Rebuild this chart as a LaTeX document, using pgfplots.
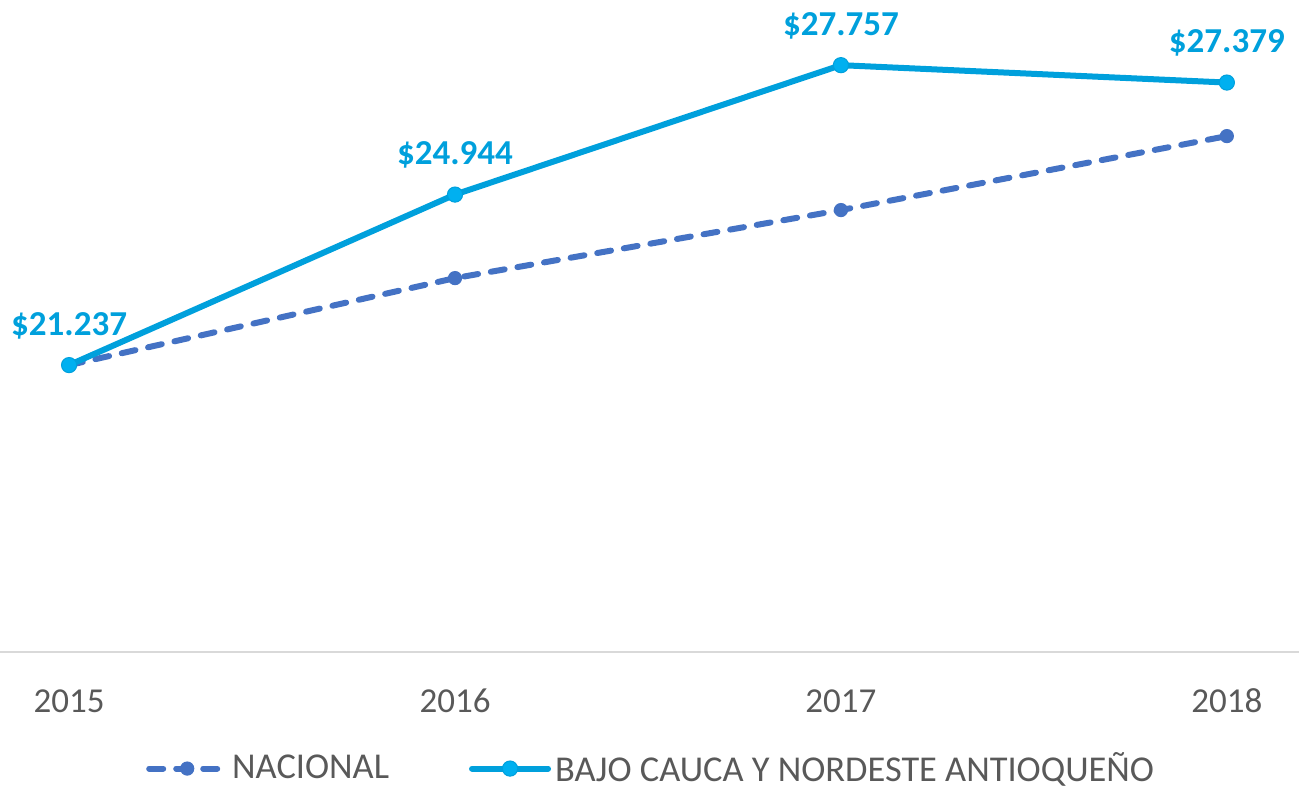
\documentclass[border=0pt]{standalone}
\usepackage{pgfplots}
\pgfplotsset{compat=1.18}
\usepackage{fontspec}
\setmainfont{Carlito}
\definecolor{cyanline}{RGB}{0,160,220}
\definecolor{cyanmark}{RGB}{0,176,240}
\definecolor{nacblue}{RGB}{68,114,196}
\definecolor{txtgray}{RGB}{89,89,89}
\definecolor{axgray}{RGB}{217,217,217}
\begin{document}
\begin{tikzpicture}
\useasboundingbox (0,0) rectangle (649.5pt,395.5pt);
\begin{axis}[
  at={(0pt,69.5pt)}, anchor=south west,
  scale only axis, width=649.5pt, height=322pt,
  xmin=-0.179, xmax=3.187, ymin=15000, ymax=29000,
  axis x line=bottom, axis y line=none,
  axis line style={-, draw=axgray, line width=1pt},
  xtick={0,1,2,3}, xticklabels={2015,2016,2017,2018},
  major tick length=0pt,
  xticklabel style={anchor=base, yshift=-30.5pt, font=\fontsize{17.5}{21}\selectfont, text=txtgray},
  clip=false,
  legend style={at={(0.502,-0.181)}, anchor=center, draw=none, fill=none, legend columns=2,
    font=\fontsize{18.2}{22}\selectfont, text=txtgray, inner ysep=0pt,
    nodes={inner ysep=1pt},
    /tikz/every even column/.append style={column sep=38pt}},
  legend cell align=left,
  legend image code/.code={\draw[mark repeat=2,mark phase=2,#1] plot coordinates {(0pt,0pt) (19pt,0pt) (38pt,0pt)};},
]
\addplot[nacblue, line width=3pt, dash pattern=on 7pt off 6.5pt, line cap=round,
  mark=*, mark size=3.3pt, mark options={solid, line width=0.5pt, fill=nacblue, draw=nacblue}]
  coordinates {(0,21237) (1,23128) (2,24607) (3,26215)};
\addlegendentry{NACIONAL}
\addplot[cyanline, line width=3pt, line cap=round,
  mark=*, mark size=3.8pt, mark options={line width=0.5pt, fill=cyanmark, draw=cyanline},
  point meta=explicit symbolic, nodes near coords,
  every node near coord/.append style={anchor=base, yshift=15pt, font=\bfseries\fontsize{17.5}{21}\selectfont, text=cyanline}]
  coordinates {(0,21237)[\$21.237] (1,24944)[\$24.944] (2,27757)[\$27.757] (3,27379)[\$27.379]};
\addlegendentry{BAJO CAUCA Y NORDESTE ANTIOQUEÑO}
\end{axis}
\end{tikzpicture}
\end{document}
